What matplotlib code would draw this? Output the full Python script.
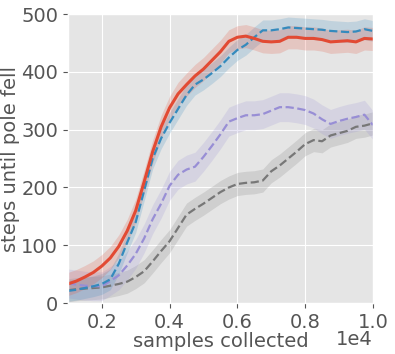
import numpy as np
import matplotlib
matplotlib.use("Agg")
from matplotlib import pyplot as plt

plt.style.use("ggplot")

# samples collected (x axis), every 250 samples
samples = np.arange(1000, 10001, 250)

# mean steps until pole fell, one list per run
red_mean = [33, 38, 45, 53, 64, 78, 98, 125, 160, 210, 262, 305, 338, 362, 378,
            393, 405, 420, 435, 453, 460, 462, 458, 453, 452, 453, 460, 460, 458,
            458, 456, 452, 453, 454, 452, 458, 457]
blue_mean = [21, 23, 26, 29, 33, 41, 68, 105, 140, 195, 250, 285, 312, 336, 360,
             378, 387, 398, 410, 425, 438, 447, 460, 472, 472, 474, 477, 476, 475,
             474, 473, 471, 470, 469, 470, 474, 471]
purple_mean = [34, 32, 30, 29, 29, 38, 48, 65, 85, 112, 145, 172, 203, 222, 231,
               236, 253, 272, 292, 314, 320, 325, 325, 327, 333, 339, 339, 337, 334,
               328, 318, 310, 315, 319, 322, 326, 308]
gray_mean = [22, 24, 25, 26, 27, 30, 33, 37, 45, 55, 72, 90, 107, 130, 153, 163,
             172, 182, 192, 200, 206, 208, 209, 212, 228, 238, 250, 262, 275, 282,
             280, 290, 294, 298, 305, 307, 311]

# half-width of the shaded bands
red_spread = 20
blue_spread = 18
purple_spread = 25
gray_spread = 20

fig = plt.figure(figsize=(3.95, 3.54), dpi=100)
ax = fig.add_axes([0.172, 0.144, 0.772, 0.816])

series = [
    (gray_mean, gray_spread, "#777777", "--", 1.6),
    (purple_mean, purple_spread, "#988ED5", "--", 1.6),
    (blue_mean, blue_spread, "#348ABD", "--", 1.6),
    (red_mean, red_spread, "#E24A33", "-", 2.2),
]
for mean, spread, color, ls, lw in series:
    m = np.array(mean, dtype=float)
    ax.fill_between(samples, m - spread, m + spread, color=color, alpha=0.2, lw=0)
    ax.plot(samples, m, color=color, ls=ls, lw=lw)

ax.set_xlim(1000, 10000)
ax.set_ylim(0, 500)
ax.set_xticks([2000, 4000, 6000, 8000, 10000])
ax.set_yticks([0, 100, 200, 300, 400, 500])
ax.ticklabel_format(axis="x", style="sci", scilimits=(0, 0))
ax.tick_params(labelsize=14)
# pull the "1e4" up onto the same line as the x label
ax.xaxis.OFFSETTEXTPAD = -1.0
ax.xaxis.get_offset_text().set_fontsize(14)
ax.set_xlabel("samples collected", fontsize=14, labelpad=0.5)
ax.set_ylabel("steps until pole fell", fontsize=14, labelpad=1)

fig.savefig("out.png", dpi=100)
